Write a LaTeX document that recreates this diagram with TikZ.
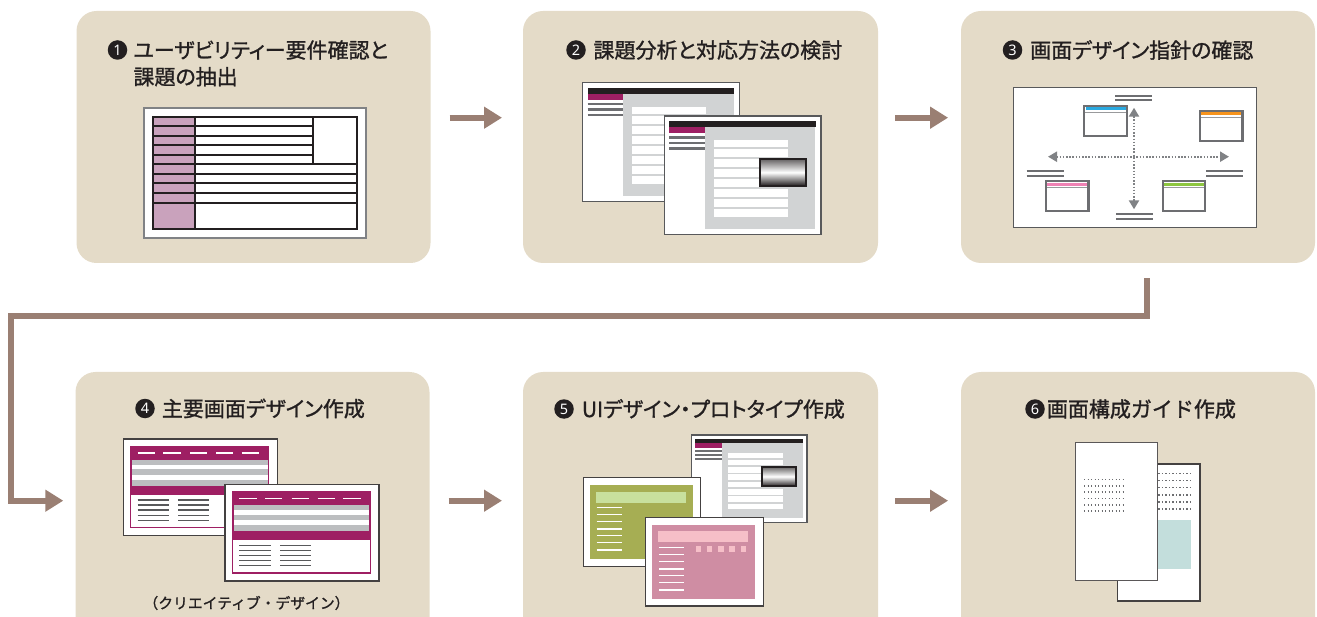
\documentclass[tikz,border=0pt]{standalone}
\usepackage{fontspec}
\newfontfamily\jpfont{Noto Sans CJK JP}[FakeBold=1.2, RawFeature=+palt]
\newfontfamily\jpfull{Noto Sans CJK JP}[FakeBold=1.2]
\newfontfamily\numfont{Noto Sans}
\usetikzlibrary{arrows.meta,calc}

\definecolor{panelbg}{HTML}{E4DBC8}
\definecolor{flowc}{HTML}{9A7F73}
\definecolor{ink}{HTML}{231F20}
\definecolor{tblpurple}{HTML}{C9A2BC}
\definecolor{wine}{HTML}{9E1F63}
\definecolor{paleg}{HTML}{D1D3D4}
\definecolor{stripe}{HTML}{BCBEC0}
\definecolor{menug}{HTML}{6D6E71}
\definecolor{frameg}{HTML}{58595B}
\definecolor{oliveg}{HTML}{A6AE53}
\definecolor{lightg}{HTML}{C8E09D}
\definecolor{rosec}{HTML}{CF8DA3}
\definecolor{lightrose}{HTML}{F6BFC8}
\definecolor{tealc}{HTML}{C3DEDC}
\definecolor{barblue}{HTML}{29A9E0}
\definecolor{barorange}{HTML}{F7941D}
\definecolor{barpink}{HTML}{EE82B4}
\definecolor{bargreen}{HTML}{8DC63F}
\definecolor{guide}{HTML}{808285}

\tikzset{
  panel/.style={fill=panelbg, rounded corners=20pt, inner sep=0pt, draw=none,
                minimum width=354pt},
  flow/.style={draw=flowc, line width=5.7pt, line join=miter,
               -{Triangle[length=18pt,width=21pt]}},
  title/.style={font=\jpfont\fontsize{21}{24}\selectfont, text=ink, anchor=west, inner sep=0pt},
  num/.style={circle, fill=ink, text=white, minimum size=19.5pt, inner sep=0pt,
              font=\numfont\bfseries\fontsize{14.5}{14.5}\selectfont},
  sheet/.style={fill=white, draw=frameg, line width=1.3pt},
  dotrow/.style={draw=menug, line width=1.6pt, dash pattern=on 1.2pt off 2.3pt},
  guidearrow/.style={guide, line width=2.3pt, dash pattern=on 1.5pt off 1.7pt,
      {Triangle[length=9pt,width=10pt]}-{Triangle[length=9pt,width=10pt]}},
  % screenshot with sidebar, grey content area and a shaded picture
  pics/shot/.style={code={
    \fill[sheet] (0,0) rectangle (156.6,118.5);
    \fill[ink] (5,5.5) rectangle (151.5,11);
    \fill[wine] (5,11) rectangle (40.6,17);
    \fill[paleg] (40.6,11) rectangle (151,113);
    \foreach \y in {21.5,27,32.5} \draw[menug,line width=2.6pt] (5,\y) -- (40.6,\y);
    \fill[white] (49.5,24) rectangle (123.4,101);
    \foreach \y in {32.3,42.3,...,92.4} \draw[paleg,line width=1.6pt] (49.5,\y) -- (123.4,\y);
    \shade[top color=ink!70, bottom color=ink, middle color=white] (95.7,43) rectangle (141.4,69.7);
    \draw[ink,line width=2pt] (95.7,43) rectangle (141.4,69.7);
  }},
  % wine-coloured page layout
  pics/magwin/.style={code={
    \fill[white, draw=ink!85, line width=1.3pt] (0,0) rectangle (154,96.7);
    \fill[wine] (6.7,6.7) rectangle (146,89.3);
    \fill[stripe] (8.5,21) rectangle (144.2,47);
    \fill[white] (8.5,25.7) rectangle (144.2,30.3);
    \fill[white] (8.5,35.7) rectangle (144.2,41);
    \fill[white] (8,56) rectangle (144.7,88);
    \foreach \a in {14.4,40,66.7,92.7,118.4}
      \draw[white,line width=1.7pt] (\a,14.3) -- ++(17.3,0);
    \foreach \y in {61,66,71,76.3,81.3} {
      \draw[frameg,line width=1.3pt] (14.4,\y) -- (45.7,\y);
      \draw[frameg,line width=1.3pt] (55,\y) -- (85.7,\y);
    }
  }},
  % small window thumbnail with a coloured title bar
  pics/miniwin/.style={code={
    \fill[white, draw=menug, line width=2.3pt] (0,0) rectangle (42.4,30.3);
    \fill[#1] (1.2,1.6) rectangle (41.2,4.6);
    \draw[menug!70, line width=0.9pt] (1,6.6) -- (41.4,6.6);
  }}
}

\begin{document}
\begin{tikzpicture}[x=1pt, y=-1pt]
\useasboundingbox (0,0) rectangle (1317,617);
\clip (0,0) rectangle (1317,617);

% ---- panels ----
\node[panel, minimum height=252pt] (p1) at (253.5,137) {};
\node[panel, minimum height=252pt, minimum width=355pt] (p2) at (700.5,137) {};
\node[panel, minimum height=252pt] (p3) at (1138,137) {};
\node[panel, minimum height=280pt] (p4) at (252.5,512) {};
\node[panel, minimum height=280pt, minimum width=355pt] (p5) at (700.5,512) {};
\node[panel, minimum height=280pt] (p6) at (1138,512) {};

% ---- flow arrows ----
\coordinate (r1) at (0,117.7);
\coordinate (r2) at (0,500.7);
\draw[flow, shorten <=19pt, shorten >=20.8pt] (p1.east |- r1) -- (p2.west |- r1);
\draw[flow, shorten <=17pt, shorten >=12.7pt] (p2.east |- r1) -- (p3.west |- r1);
\draw[flow, shorten <=15pt, shorten >=12pt] ($(p3.south)+(9,0)$) |- (11,316) |- (p4.west |- r2);
\draw[flow, shorten <=19pt, shorten >=20.8pt] (p4.east |- r2) -- (p5.west |- r2);
\draw[flow, shorten <=17pt, shorten >=12.7pt] (p5.east |- r2) -- (p6.west |- r2);

% ---- titles ----
\node[num] (n1) at (117.5,50) {1};
\node[title] (t1) at (133.3,50) {ユーザビリティー要件確認と};
\node[title] (t1b) at (133.3,76.7) {課題の抽出};
\node[num] (n2) at (576,50) {2};
\node[title] (t2) at (593.3,50) {課題分析と対応方法の検討};
\node[num] (n3) at (1012.5,50) {3};
\node[title] (t3) at (1030,50) {画面デザイン指針の確認};
\node[num] (n4) at (145,408.5) {4};
\node[title] (t4) at (161.7,408.5) {主要画面デザイン作成};
\node[num] (n5) at (564,409) {5};
\node[title] (t5) at (581.7,409) {UIデザイン・プロトタイプ作成};
\node[num] (n6) at (1035,409) {6};
\node[title, font=\jpfull\fontsize{21}{24}\selectfont] (t6) at (1046.7,409) {画面構成ガイド作成};
\node[font=\jpfull\fontsize{14.8}{17}\selectfont, text=ink, inner sep=0pt] (sub4) at (246.5,603) {（クリエイティブ・デザイン）};

% ---- 1: requirement sheet ----
\fill[white, draw=guide, line width=1.5pt] (144,108) rectangle (366,238);
\fill[tblpurple] (153.3,116.7) rectangle (194.5,229);
\begin{scope}[draw=ink, line width=2pt]
  \draw (153.3,116.7) rectangle (357,229);
  \draw (194.5,116.7) -- (194.5,229);
  \draw (313,116.7) -- (313,164.3);
  \foreach \y in {125.7,135.7,145,154.7} \draw (153.3,\y) -- (313,\y);
  \foreach \y in {164.3,174,183.3,193,202.7} \draw (153.3,\y) -- (357,\y);
\end{scope}

% ---- 2: screens under review ----
\pic at (582.7,82.7) {shot};
\pic at (664.3,116) {shot};

% ---- 3: design guideline map ----
\fill[white, draw=frameg, line width=1.5pt] (1013.3,87.3) rectangle (1256.7,227.3);
\begin{scope}[menug, line width=2.2pt]
  \draw (1115,95.7) -- (1152.3,95.7);  \draw (1115,100) -- (1152.3,100);
  \draw (1116,214) -- (1153.3,214);    \draw (1116,219) -- (1153.3,219);
  \draw (1026.7,171) -- (1064,171);    \draw (1026.7,175.7) -- (1064,175.7);
  \draw (1206,171) -- (1243.3,171);    \draw (1206,175.7) -- (1243.3,175.7);
\end{scope}
\draw[guidearrow] (1048,156.7) -- (1229,156.7);
\draw[guidearrow] (1134,107.7) -- (1134,209.3);
\pic at (1084.3,105.7) {miniwin=barblue};
\pic at (1200,110.7) {miniwin=barorange};
\pic at (1046,181) {miniwin=barpink};
\pic at (1162.7,181) {miniwin=bargreen};

% ---- 4: main screen designs ----
\pic at (123.3,439) {magwin};
\pic at (225,484.3) {magwin};

% ---- 5: UI design and prototypes ----
\pic[scale=0.736] at (691.7,435) {shot};
\fill[white, draw=ink!85, line width=1.3pt] (583.3,477.7) rectangle (700.7,566.7);
\fill[oliveg] (590,485) rectangle (693.3,559.3);
\fill[lightg] (596,492) rectangle (686,502.7);
\foreach \y in {507.3,514.3,521.7,529,535.7,542.7,550}
  \draw[white, line width=1.3pt] (596.7,\y) -- (621.7,\y);
\fill[white, draw=ink!85, line width=1.3pt] (645.7,517.3) rectangle (763.3,606);
\fill[rosec] (652.3,525) rectangle (755,599);
\fill[lightrose] (658.3,531) rectangle (748.3,541.7);
\foreach \a in {695.7,706.7,718.3,729.3,740.7}
  \fill[lightrose] (\a,546) rectangle ++(5.3,5.7);
\foreach \y in {547.7,554.3,561.7,569,575.7,582.7,590}
  \draw[white, line width=1.3pt] (659,\y) -- (684,\y);

% ---- 6: screen layout guide ----
\fill[white, draw=ink!85, line width=1.3pt] (1117.7,464) rectangle (1200,601);
\fill[tealc] (1158.3,520) rectangle (1191,569);
\foreach \y in {473.3,480.3,487.3,494.7,501.7,508.7}
  \draw[dotrow] (1158.3,\y) -- (1191,\y);
\fill[white, draw=ink!75, line width=1.3pt] (1075.7,442.3) rectangle (1157.7,580.7);
\foreach \y in {479.3,485.7,492,498.3,504.7,511}
  \draw[dotrow] (1084,\y) -- (1125,\y);

\end{tikzpicture}
\end{document}
